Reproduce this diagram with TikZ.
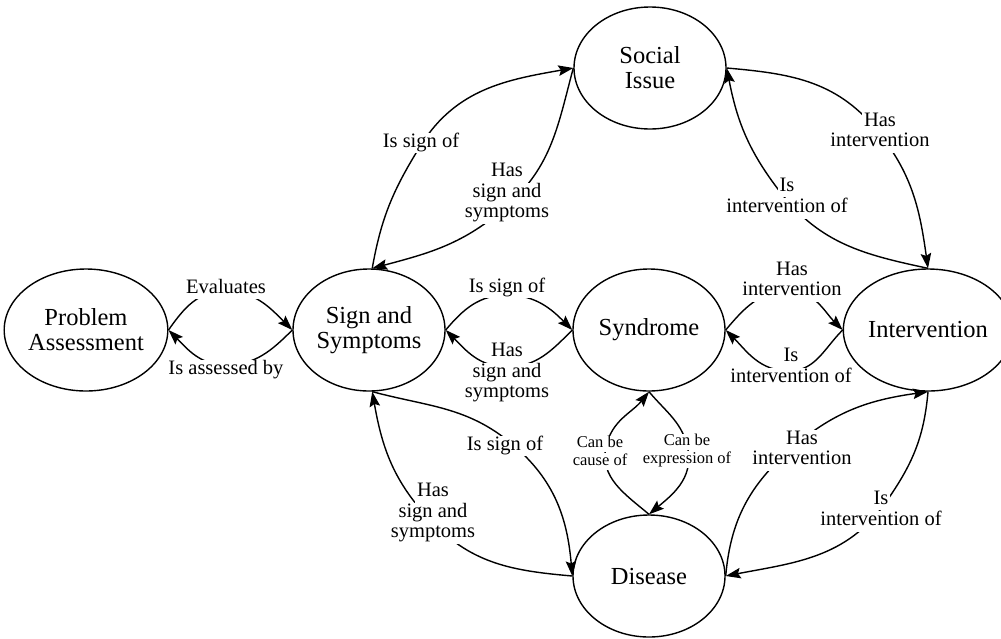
\documentclass[tikz,border=0pt]{standalone}
\usepackage{fontspec}
\setmainfont{Liberation Serif}
\usetikzlibrary{shapes.geometric,arrows.meta}
\setlength{\fboxsep}{0pt}
% white backing behind each line of a relation label; struts make the lines abut
\newcommand{\wbox}[1]{\colorbox{white}{\kern2pt\strut#1\kern2pt}}
\begin{document}
\begin{tikzpicture}[x=1pt,y=1pt,
  concept/.style={ellipse,draw,line width=1.4pt,minimum width=152pt,minimum height=122pt,
    inner sep=0pt,align=center,font=\fontsize{24.5}{25}\selectfont},
  rel/.style={inner sep=0pt,align=center,font=\fontsize{20.5}{20.5}\selectfont},
  relsmall/.style={rel,font=\fontsize{16.5}{16}\selectfont},
  link/.style={line width=1.4pt,-{Stealth[length=15pt,width=10.5pt,inset=2.5pt]}}]
\useasboundingbox (0,0) rectangle (1001,-638);

% concepts
\node[concept] (pa) at (86,-330) {Problem\\Assessment};
\node[concept] (ss) at (369,-330) {Sign and\\Symptoms};
\node[concept] (syn) at (649,-330) {Syndrome};
\node[concept,minimum width=144pt] (int) at (928,-330) {Intervention};
\node[concept] (si) at (650,-68) {Social\\Issue};
\node[concept] (dis) at (649,-576) {Disease};

% points where each relation passes under its label
\coordinate (p1) at (225,-291);
\coordinate (p2) at (226,-365);
\coordinate (p3) at (507,-295);
\coordinate (p4) at (507,-367);
\coordinate (p5) at (789,-291);
\coordinate (p6) at (789,-371);
\coordinate (p7) at (421,-145);
\coordinate (p8) at (508,-205);
\coordinate (p9) at (875,-128);
\coordinate (p10) at (781,-193);
\coordinate (p11) at (512,-444);
\coordinate (p12) at (432,-522);
\coordinate (p13) at (606,-447);
\coordinate (p14) at (688,-450);
\coordinate (p15) at (792,-448);
\coordinate (p16) at (886,-502);

% relations
\draw[link] (pa.east) to[out=55,in=180] (p1) to[out=0,in=135] (ss.west);
\draw[link] (ss.west) to[out=225,in=0] (p2) to[out=180,in=-45] (pa.east);
\draw[link] (ss.east) to[out=50,in=180] (p3) to[out=0,in=135] (syn.west);
\draw[link] (syn.west) to[out=225,in=0] (p4) to[out=180,in=-45] (ss.east);
\draw[link] (syn.east) to[out=50,in=180] (p5) to[out=0,in=135] (int.west);
\draw[link] (int.west) to[out=225,in=0] (p6) to[out=180,in=-45] (syn.east);
\draw[link] (ss.87) to[out=80,in=238] (p7) to[out=58,in=190] (si.west);
\draw[link] (si.west) to[out=-105,in=42] (p8) to[out=-138,in=15] (ss.87);
\draw[link] (si.east) to[out=-5,in=130] (p9) to[out=-50,in=98] (int.north);
\draw[link] (int.north) to[out=168,in=-52] (p10) to[out=128,in=-79] (si.east);
\draw[link] (ss.273) to[out=-15,in=140] (p11) to[out=-40,in=95] (dis.west);
\draw[link] (dis.west) to[out=175,in=-46] (p12) to[out=134,in=-80] (ss.273);
\draw[link] (dis.north) to[out=140,in=-102] (p13) to[out=78,in=-129] (syn.south);
\draw[link] (syn.south) to[out=-50,in=100] (p14) to[out=-80,in=40] (dis.north);
\draw[link] (dis.east) to[out=85,in=-139] (p15) to[out=41,in=188] (int.south);
\draw[link] (int.south) to[out=-95,in=55] (p16) to[out=-125,in=11] (dis.east);

% relation labels
\node[rel] (l1) at (226,-289) {\wbox{Evaluates}};
\node[rel] (l2) at (226,-370) {\wbox{Is assessed by}};
\node[rel] (l3) at (507,-288) {\wbox{Is sign of}};
\node[rel] (l4) at (507,-373) {\wbox{Has}\\\wbox{sign and}\\\wbox{symptoms}};
\node[rel] (l5) at (792,-281.5) {\wbox{Has}\\\wbox{intervention}};
\node[rel] (l6) at (791,-368) {\wbox{Is}\\\wbox{intervention of}};
\node[rel] (l7) at (421,-143) {\wbox{Is sign of}};
\node[rel] (l8) at (507,-193) {\wbox{Has}\\\wbox{sign and}\\\wbox{symptoms}};
\node[rel] (l9) at (880,-132.5) {\wbox{Has}\\\wbox{intervention}};
\node[rel] (l10) at (787,-198) {\wbox{Is}\\\wbox{intervention of}};
\node[rel] (l11) at (505,-446) {\wbox{Is sign of}};
\node[rel] (l12) at (433,-513) {\wbox{Has}\\\wbox{sign and}\\\wbox{symptoms}};
\node[relsmall] (l13) at (600,-453) {\wbox{Can be}\\\wbox{cause of}};
\node[relsmall] (l14) at (687,-451) {\wbox{Can be}\\\wbox{expression of}};
\node[rel] (l15) at (802,-450.5) {\wbox{Has}\\\wbox{intervention}};
\node[rel] (l16) at (881,-511) {\wbox{Is}\\\wbox{intervention of}};
\end{tikzpicture}
\end{document}
